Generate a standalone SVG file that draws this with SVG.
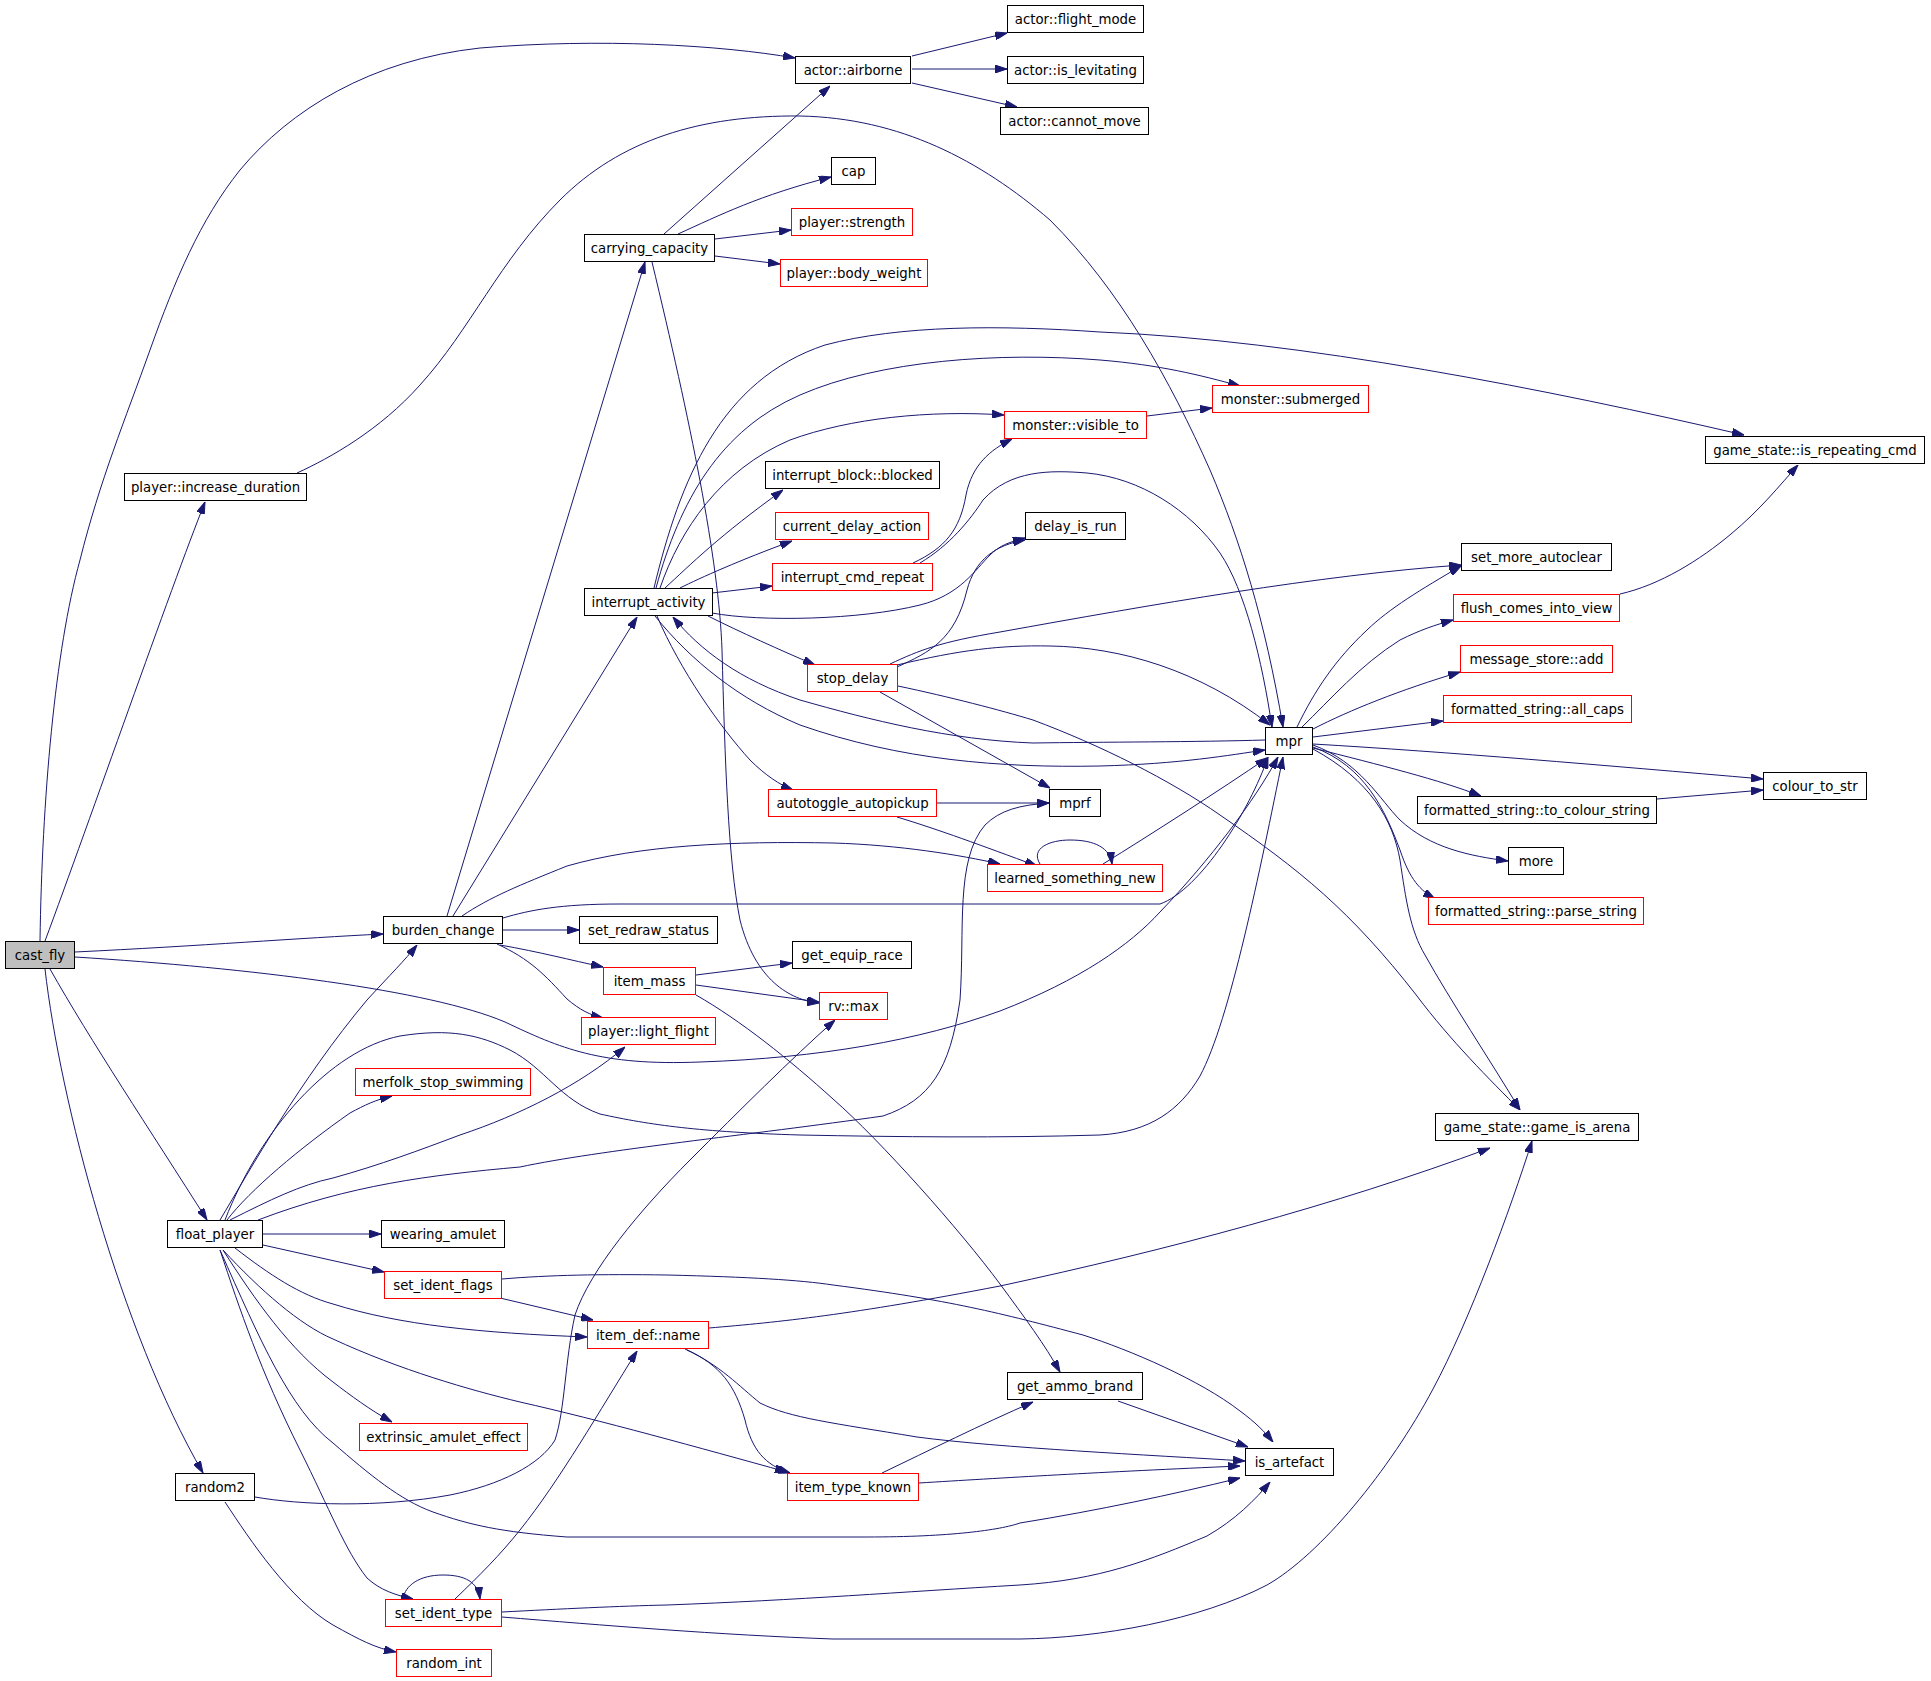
<svg xmlns="http://www.w3.org/2000/svg" width="1931" height="1681" viewBox="0 0 1931 1681">
<style>
.e{fill:none;stroke:#191970;stroke-width:1;marker-end:url(#ah)}
.b{fill:#fff;stroke:#000;stroke-width:1}
.r{fill:#fff;stroke:#ff0000;stroke-width:1}
.g{fill:#bfbfbf;stroke:#000;stroke-width:1}
text{font-family:"DejaVu Sans","Liberation Sans",sans-serif;font-size:13.3px;fill:#000;text-anchor:middle}
</style>
<defs>
<marker id="ah" viewBox="0 0 12 8" refX="12" refY="4" markerWidth="12" markerHeight="8" markerUnits="userSpaceOnUse" orient="auto">
<path d="M0,0 L12,4 L0,8 z" fill="#191970" stroke="#191970" stroke-width="1"/>
</marker>
</defs>
<rect width="1931" height="1681" fill="#fff"/>
<g id="edges">
<path class="e" d="M40,941 C42,800 55,650 80,560 C100,480 125,420 150,350 C175,280 200,220 240,170 C290,110 370,60 480,48 C600,38 720,45 795,58"/>
<path class="e" d="M45,941 C90,820 170,590 205,502"/>
<path class="e" d="M75,952 C200,946 300,938 383,934"/>
<path class="e" d="M75,957 C250,968 430,990 505,1022 C560,1048 600,1066 700,1062 C820,1058 920,1040 1000,1011 C1080,980 1130,945 1160,912 C1210,860 1255,800 1278,757"/>
<path class="e" d="M50,969 C90,1040 150,1130 207,1220"/>
<path class="e" d="M45,969 C60,1100 120,1330 203,1473"/>
<path class="e" d="M297,473 C330,458 380,430 420,385 C470,330 500,260 560,200 C620,140 700,115 800,116 C900,118 980,160 1050,220 C1120,290 1170,380 1210,470 C1240,540 1265,620 1283,727"/>
<path class="e" d="M664,234 L830,86"/>
<path class="e" d="M678,234 C720,215 760,195 831,177"/>
<path class="e" d="M715,239 L791,230"/>
<path class="e" d="M715,256 L780,264"/>
<path class="e" d="M652,262 C690,420 719,560 722,650 C725,760 728,860 740,920 C755,980 790,1000 819,1003"/>
<path class="e" d="M912,56 L1007,33"/>
<path class="e" d="M912,69 L1007,69"/>
<path class="e" d="M912,83 L1017,107"/>
<path class="e" d="M447,916 L645,262"/>
<path class="e" d="M453,916 L637,617"/>
<path class="e" d="M462,916 C490,897 520,885 567,866 C640,845 733,841 833,843 C900,845 960,855 1000,864"/>
<path class="e" d="M503,918 C530,910 560,904 620,904 L1160,904 C1200,890 1250,810 1268,757"/>
<path class="e" d="M503,930 L579,930"/>
<path class="e" d="M500,945 C540,952 570,960 603,967"/>
<path class="e" d="M497,944 C530,959 545,975 567,999 C580,1010 590,1015 603,1018"/>
<path class="e" d="M654,588 C680,480 720,380 825,345 C900,325 1000,325 1100,332 C1300,340 1550,390 1744,435"/>
<path class="e" d="M656,588 C680,500 720,430 800,395 C880,360 1000,352 1100,360 C1160,365 1200,375 1240,386"/>
<path class="e" d="M660,588 C680,530 720,470 790,440 C850,418 930,410 1004,415"/>
<path class="e" d="M665,588 C690,565 720,535 783,490"/>
<path class="e" d="M680,588 C700,578 740,560 792,541"/>
<path class="e" d="M712,593 L772,586"/>
<path class="e" d="M712,613 C760,622 860,620 920,605 C960,595 975,570 990,555 C1000,545 1010,542 1025,538"/>
<path class="e" d="M708,616 C740,632 780,650 815,665"/>
<path class="e" d="M657,616 C680,670 720,727 750,760 C765,775 780,785 793,790"/>
<path class="e" d="M655,616 C690,660 740,700 800,725 C900,760 1000,768 1100,766 C1180,764 1230,755 1265,750"/>
<path class="e" d="M1265,740 C1200,742 1100,742 1033,743 C950,740 870,720 800,700 C740,680 700,650 673,617"/>
<path class="e" d="M913,563 C945,548 960,530 966,495 C972,465 990,450 1012,439"/>
<path class="e" d="M920,563 C950,545 970,520 983,500 C1010,470 1050,470 1087,473 C1140,478 1190,510 1220,553 C1245,590 1262,660 1272,727"/>
<path class="e" d="M897,667 C930,652 955,640 967,590 C975,560 995,545 1025,540"/>
<path class="e" d="M890,664 C920,650 940,642 1000,632 C1150,605 1320,575 1461,565"/>
<path class="e" d="M897,665 C960,650 1000,645 1050,646 C1120,647 1200,670 1270,725"/>
<path class="e" d="M898,686 C950,697 1000,710 1033,720 C1100,745 1170,780 1220,815 C1300,870 1350,910 1417,996 C1450,1040 1490,1080 1520,1110"/>
<path class="e" d="M880,692 L1050,788"/>
<path class="e" d="M937,803 L1049,803"/>
<path class="e" d="M897,817 C940,830 980,845 1037,866"/>
<path class="e" d="M1147,416 L1212,408"/>
<path class="e" d="M1040,864 C1030,848 1050,840 1070,840 C1095,840 1110,848 1112,864"/>
<path class="e" d="M1103,864 C1150,835 1220,790 1267,758"/>
<path class="e" d="M1297,727 C1315,690 1335,660 1367,630 C1390,608 1420,590 1461,566"/>
<path class="e" d="M1302,727 C1330,700 1360,665 1400,640 C1420,630 1435,625 1453,620"/>
<path class="e" d="M1313,729 C1350,710 1400,690 1460,672"/>
<path class="e" d="M1313,737 L1443,721"/>
<path class="e" d="M1313,744 C1450,752 1600,765 1763,779"/>
<path class="e" d="M1313,748 C1380,765 1440,780 1481,796"/>
<path class="e" d="M1313,745 C1360,762 1380,800 1400,820 C1430,848 1470,856 1508,861"/>
<path class="e" d="M1313,747 C1365,766 1385,810 1400,850 C1410,880 1420,890 1435,899"/>
<path class="e" d="M1313,749 C1370,780 1393,820 1400,860 C1406,900 1410,930 1425,955 C1450,1000 1490,1060 1520,1110"/>
<path class="e" d="M1620,594 C1660,585 1700,560 1731,534 C1760,510 1780,485 1798,465"/>
<path class="e" d="M1657,799 L1763,790"/>
<path class="e" d="M220,1220 C250,1170 300,1080 367,1000 C390,975 405,960 417,945"/>
<path class="e" d="M227,1220 C250,1190 300,1148 350,1113 C365,1105 375,1100 392,1096"/>
<path class="e" d="M230,1220 C270,1200 300,1185 333,1178 C380,1165 420,1150 460,1135 C520,1115 580,1085 625,1047"/>
<path class="e" d="M258,1220 C350,1185 430,1175 520,1167 C600,1150 750,1135 883,1116 C930,1100 950,1070 960,1000 C965,930 955,860 985,825 C1000,810 1020,805 1049,803"/>
<path class="e" d="M225,1220 C260,1130 330,1050 400,1036 C450,1028 480,1035 510,1050 C545,1068 560,1100 600,1114 C650,1125 700,1132 800,1135 C900,1137 1000,1138 1100,1135 C1150,1132 1180,1110 1200,1076 C1230,1020 1260,870 1283,757"/>
<path class="e" d="M263,1234 L381,1234"/>
<path class="e" d="M263,1245 L384,1272"/>
<path class="e" d="M235,1248 C270,1275 300,1295 333,1304 C400,1325 480,1333 587,1337"/>
<path class="e" d="M223,1250 C260,1290 300,1325 333,1339 C400,1370 470,1390 520,1402 C600,1420 700,1448 787,1472"/>
<path class="e" d="M223,1250 C255,1300 290,1350 333,1382 C350,1395 370,1410 392,1422"/>
<path class="e" d="M220,1250 C260,1340 290,1410 333,1443 C370,1475 400,1500 433,1512 C470,1525 500,1532 567,1537 L867,1537 C950,1537 1000,1530 1020,1523 C1100,1510 1170,1495 1240,1478"/>
<path class="e" d="M220,1250 C240,1310 260,1370 300,1450 C330,1510 345,1550 367,1578 C380,1590 395,1595 413,1599"/>
<path class="e" d="M500,1298 L593,1320"/>
<path class="e" d="M502,1279 C550,1275 600,1274 667,1275 C750,1277 800,1280 833,1285 C950,1300 1000,1313 1083,1335 C1130,1350 1200,1380 1240,1411 C1255,1422 1265,1432 1273,1442"/>
<path class="e" d="M709,1328 C780,1322 850,1315 1000,1286 C1167,1250 1333,1206 1490,1148"/>
<path class="e" d="M685,1349 C720,1365 740,1387 760,1403 C790,1418 833,1423 917,1437 C1000,1448 1150,1455 1245,1461"/>
<path class="e" d="M687,1350 C720,1365 735,1385 745,1420 C752,1450 765,1465 790,1473"/>
<path class="e" d="M882,1473 C930,1450 980,1425 1033,1402"/>
<path class="e" d="M919,1483 C1000,1478 1100,1472 1240,1466"/>
<path class="e" d="M1118,1401 L1248,1447"/>
<path class="e" d="M696,975 L792,963"/>
<path class="e" d="M696,985 L819,1002"/>
<path class="e" d="M696,995 C740,1020 790,1060 833,1099 C880,1140 960,1230 1000,1284 C1025,1318 1045,1345 1060,1372"/>
<path class="e" d="M255,1497 C300,1505 380,1508 450,1495 C500,1485 540,1465 555,1440 C565,1410 565,1360 575,1315 C590,1270 640,1210 690,1160 C740,1110 790,1060 835,1020"/>
<path class="e" d="M225,1502 C250,1540 290,1600 333,1625 C360,1640 375,1648 396,1652"/>
<path class="e" d="M403,1599 C405,1585 420,1575 443,1575 C465,1575 478,1582 480,1599"/>
<path class="e" d="M455,1599 C480,1575 500,1555 520,1530 C560,1480 600,1410 637,1351"/>
<path class="e" d="M502,1612 C560,1609 620,1606 667,1605 C800,1600 900,1592 1020,1585 C1100,1580 1150,1560 1207,1536 C1235,1520 1255,1500 1270,1482"/>
<path class="e" d="M502,1617 C600,1625 720,1635 833,1639 L1020,1639 C1100,1638 1200,1620 1267,1585 C1320,1555 1390,1470 1433,1389 C1470,1320 1510,1210 1532,1141"/>
</g>
<g id="cast_fly"><rect class="g" x="5.5" y="941.5" width="69" height="27"/><text x="40" y="959.5">cast_fly</text></g>
<g id="actor_airborne"><rect class="b" x="795.5" y="56.5" width="115" height="27"/><text x="853" y="74.5">actor::airborne</text></g>
<g id="actor_flight_mode"><rect class="b" x="1007.5" y="5.5" width="136" height="27"/><text x="1075.5" y="23.5">actor::flight_mode</text></g>
<g id="actor_is_levitating"><rect class="b" x="1007.5" y="56.5" width="136" height="27"/><text x="1075.5" y="74.5">actor::is_levitating</text></g>
<g id="actor_cannot_move"><rect class="b" x="1000.5" y="107.5" width="148" height="27"/><text x="1074.5" y="125.5">actor::cannot_move</text></g>
<g id="cap"><rect class="b" x="831.5" y="157.5" width="44" height="27"/><text x="853.5" y="175.5">cap</text></g>
<g id="player_strength"><rect class="r" x="791.5" y="208.5" width="121" height="27"/><text x="852" y="226.5">player::strength</text></g>
<g id="player_body_weight"><rect class="r" x="780.5" y="259.5" width="147" height="27"/><text x="854" y="277.5">player::body_weight</text></g>
<g id="carrying_capacity"><rect class="b" x="584.5" y="234.5" width="130" height="27"/><text x="649.5" y="252.5">carrying_capacity</text></g>
<g id="player_increase_duration"><rect class="b" x="124.5" y="473.5" width="182" height="27"/><text x="215.5" y="491.5">player::increase_duration</text></g>
<g id="monster_submerged"><rect class="r" x="1212.5" y="385.5" width="156" height="27"/><text x="1290.5" y="403.5">monster::submerged</text></g>
<g id="monster_visible_to"><rect class="r" x="1004.5" y="411.5" width="142" height="27"/><text x="1075.5" y="429.5">monster::visible_to</text></g>
<g id="game_state_is_repeating_cmd"><rect class="b" x="1705.5" y="436.5" width="219" height="27"/><text x="1815" y="454.5">game_state::is_repeating_cmd</text></g>
<g id="interrupt_block_blocked"><rect class="b" x="765.5" y="461.5" width="174" height="27"/><text x="852.5" y="479.5">interrupt_block::blocked</text></g>
<g id="current_delay_action"><rect class="r" x="775.5" y="512.5" width="153" height="27"/><text x="852" y="530.5">current_delay_action</text></g>
<g id="delay_is_run"><rect class="b" x="1025.5" y="512.5" width="100" height="27"/><text x="1075.5" y="530.5">delay_is_run</text></g>
<g id="interrupt_cmd_repeat"><rect class="r" x="772.5" y="563.5" width="160" height="27"/><text x="852.5" y="581.5">interrupt_cmd_repeat</text></g>
<g id="set_more_autoclear"><rect class="b" x="1461.5" y="543.5" width="150" height="27"/><text x="1536.5" y="561.5">set_more_autoclear</text></g>
<g id="interrupt_activity"><rect class="b" x="584.5" y="588.5" width="128" height="27"/><text x="648.5" y="606.5">interrupt_activity</text></g>
<g id="flush_comes_into_view"><rect class="r" x="1453.5" y="594.5" width="166" height="27"/><text x="1536.5" y="612.5">flush_comes_into_view</text></g>
<g id="message_store_add"><rect class="r" x="1460.5" y="645.5" width="152" height="27"/><text x="1536.5" y="663.5">message_store::add</text></g>
<g id="stop_delay"><rect class="r" x="807.5" y="664.5" width="90" height="27"/><text x="852.5" y="682.5">stop_delay</text></g>
<g id="formatted_string_all_caps"><rect class="r" x="1443.5" y="695.5" width="188" height="27"/><text x="1537.5" y="713.5">formatted_string::all_caps</text></g>
<g id="mpr"><rect class="b" x="1265.5" y="727.5" width="47" height="27"/><text x="1289" y="745.5">mpr</text></g>
<g id="colour_to_str"><rect class="b" x="1763.5" y="772.5" width="103" height="27"/><text x="1815" y="790.5">colour_to_str</text></g>
<g id="autotoggle_autopickup"><rect class="r" x="768.5" y="789.5" width="168" height="27"/><text x="852.5" y="807.5">autotoggle_autopickup</text></g>
<g id="mprf"><rect class="b" x="1049.5" y="789.5" width="51" height="27"/><text x="1075" y="807.5">mprf</text></g>
<g id="formatted_string_to_colour_string"><rect class="b" x="1417.5" y="796.5" width="239" height="27"/><text x="1537" y="814.5">formatted_string::to_colour_string</text></g>
<g id="more"><rect class="b" x="1508.5" y="847.5" width="55" height="27"/><text x="1536" y="865.5">more</text></g>
<g id="learned_something_new"><rect class="r" x="987.5" y="864.5" width="175" height="27"/><text x="1075" y="882.5">learned_something_new</text></g>
<g id="formatted_string_parse_string"><rect class="r" x="1428.5" y="897.5" width="215" height="27"/><text x="1536" y="915.5">formatted_string::parse_string</text></g>
<g id="burden_change"><rect class="b" x="383.5" y="916.5" width="119" height="27"/><text x="443" y="934.5">burden_change</text></g>
<g id="set_redraw_status"><rect class="b" x="579.5" y="916.5" width="138" height="27"/><text x="648.5" y="934.5">set_redraw_status</text></g>
<g id="get_equip_race"><rect class="b" x="792.5" y="941.5" width="119" height="27"/><text x="852" y="959.5">get_equip_race</text></g>
<g id="item_mass"><rect class="r" x="603.5" y="967.5" width="92" height="27"/><text x="649.5" y="985.5">item_mass</text></g>
<g id="rv_max"><rect class="r" x="819.5" y="992.5" width="68" height="27"/><text x="853.5" y="1010.5">rv::max</text></g>
<g id="player_light_flight"><rect class="r" x="581.5" y="1017.5" width="134" height="27"/><text x="648.5" y="1035.5">player::light_flight</text></g>
<g id="merfolk_stop_swimming"><rect class="r" x="355.5" y="1068.5" width="175" height="27"/><text x="443" y="1086.5">merfolk_stop_swimming</text></g>
<g id="game_state_game_is_arena"><rect class="b" x="1435.5" y="1113.5" width="203" height="27"/><text x="1537" y="1131.5">game_state::game_is_arena</text></g>
<g id="float_player"><rect class="b" x="167.5" y="1220.5" width="95" height="27"/><text x="215" y="1238.5">float_player</text></g>
<g id="wearing_amulet"><rect class="b" x="381.5" y="1220.5" width="123" height="27"/><text x="443" y="1238.5">wearing_amulet</text></g>
<g id="set_ident_flags"><rect class="r" x="384.5" y="1271.5" width="117" height="27"/><text x="443" y="1289.5">set_ident_flags</text></g>
<g id="item_def_name"><rect class="r" x="587.5" y="1321.5" width="121" height="27"/><text x="648" y="1339.5">item_def::name</text></g>
<g id="get_ammo_brand"><rect class="b" x="1007.5" y="1372.5" width="135" height="27"/><text x="1075" y="1390.5">get_ammo_brand</text></g>
<g id="extrinsic_amulet_effect"><rect class="r" x="359.5" y="1423.5" width="168" height="27"/><text x="443.5" y="1441.5">extrinsic_amulet_effect</text></g>
<g id="is_artefact"><rect class="b" x="1245.5" y="1448.5" width="88" height="27"/><text x="1289.5" y="1466.5">is_artefact</text></g>
<g id="random2"><rect class="b" x="175.5" y="1473.5" width="79" height="27"/><text x="215" y="1491.5">random2</text></g>
<g id="item_type_known"><rect class="r" x="787.5" y="1473.5" width="131" height="27"/><text x="853" y="1491.5">item_type_known</text></g>
<g id="set_ident_type"><rect class="r" x="385.5" y="1599.5" width="116" height="27"/><text x="443.5" y="1617.5">set_ident_type</text></g>
<g id="random_int"><rect class="r" x="396.5" y="1649.5" width="95" height="27"/><text x="444" y="1667.5">random_int</text></g>
</svg>
